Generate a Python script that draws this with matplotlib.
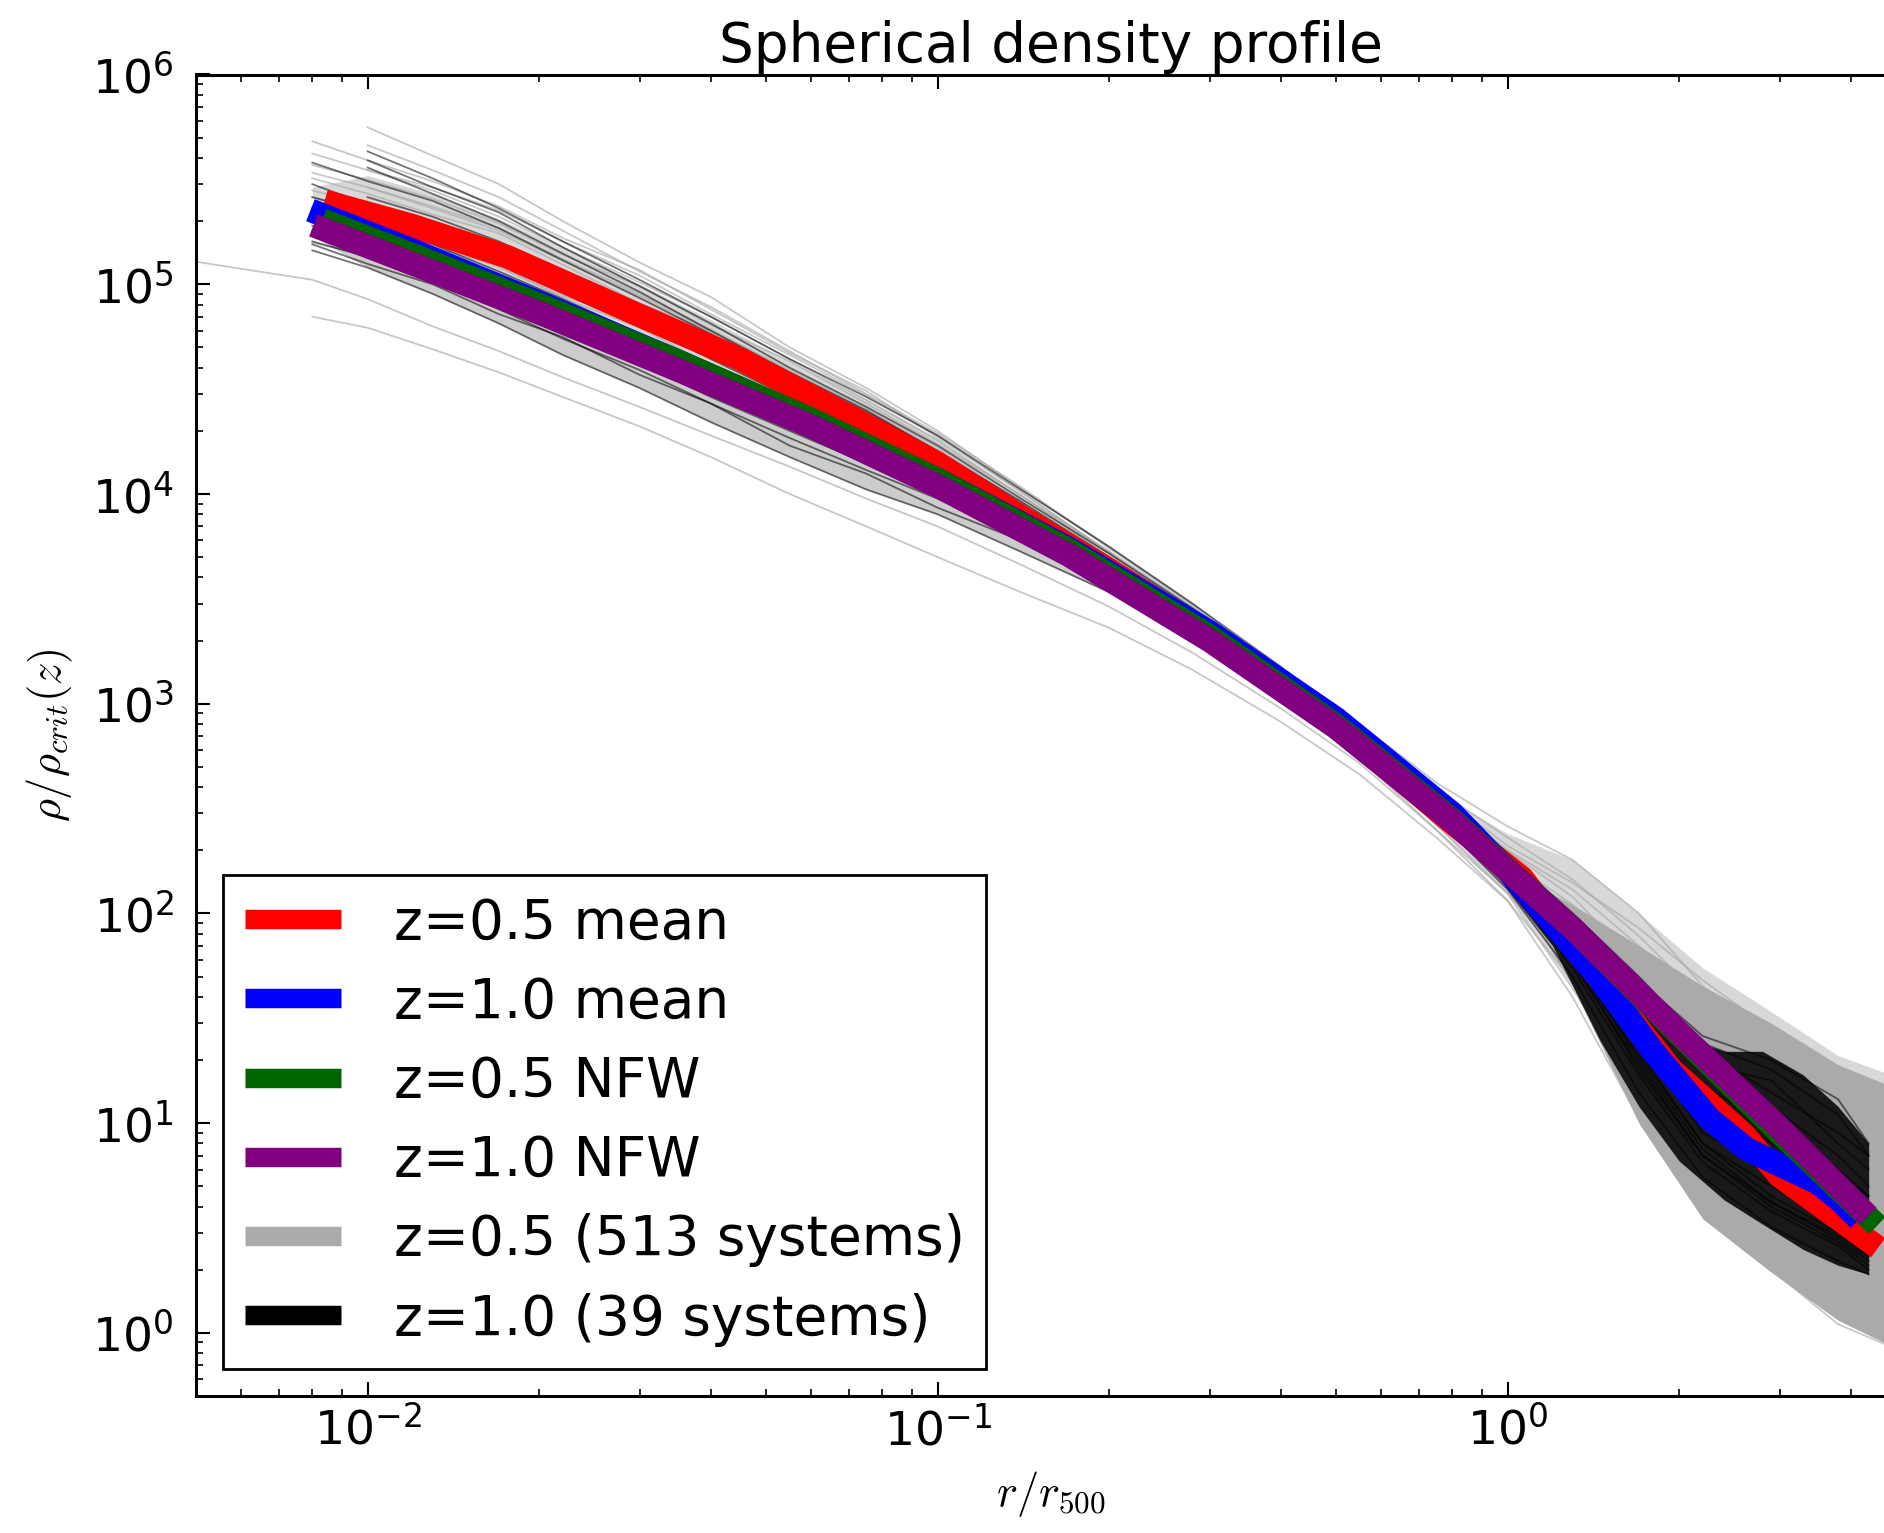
import numpy as np
import matplotlib
matplotlib.use('Agg')
import matplotlib.pyplot as plt
from matplotlib.lines import Line2D
from matplotlib.ticker import LogLocator, NullFormatter

nan = np.nan

# mean profiles and NFW fits
red_x = [0.0088, 0.012, 0.0176, 0.03, 0.045, 0.07, 0.1, 0.14, 0.2, 0.3, 0.5, 0.8, 1.06, 1.4, 1.94, 2.6, 3.0, 3.6, 4.3]
red_y = [2.4e5, 1.9e5, 1.35e5, 7.1e4, 4.4e4, 2.35e4, 1.4e4, 7.8e3, 4.35e3, 2.15e3, 790, 270, 148, 55, 18, 8.8, 5.6, 3.9, 2.75]

blue_x = [0.0083, 0.012, 0.02, 0.035, 0.06, 0.1, 0.17, 0.3, 0.5, 0.8, 1.0, 1.2, 1.44, 1.8, 2.26, 2.63, 3.05, 3.5, 3.82, 4.0]
blue_y = [2.15e5, 1.45e5, 8.2e4, 4.3e4, 2.25e4, 1.17e4, 5.5e3, 2.2e3, 850, 300, 160, 90, 50, 22, 10.5, 7.5, 6.2, 5.2, 4.3, 3.8]

green_x = [0.0087, 0.012, 0.02, 0.035, 0.06, 0.1, 0.17, 0.3, 0.5, 0.8, 1.3, 2.0, 3.0, 4.3]
green_y = [1.93e5, 1.38e5, 8.0e4, 4.3e4, 2.27e4, 1.17e4, 5.4e3, 2.1e3, 790, 280, 85, 26.5, 9.0, 3.55]

purple_x = [0.0084, 0.012, 0.02, 0.035, 0.06, 0.1, 0.17, 0.3, 0.5, 0.8, 1.3, 2.0, 3.0, 4.15]
purple_y = [1.82e5, 1.25e5, 7.3e4, 3.9e4, 2.1e4, 1.09e4, 5.1e3, 2.0e3, 770, 275, 85, 27, 9.5, 3.95]

# individual system profiles, sampled on a common radius grid
grid_x = [0.005, 0.008, 0.01, 0.013, 0.017, 0.022, 0.03, 0.04, 0.055, 0.075, 0.1, 0.14,
          0.2, 0.28, 0.4, 0.55, 0.75, 1.0, 1.3, 1.7, 2.2, 2.9, 3.8, 5.0]
black_grid_x = grid_x[:-1] + [4.3]

gray_lines = [
    [nan, nan, 5.6e5, 4.1e5, 3.0e5, 2.0e5, 1.27e5, 8.7e4, 5.0e4, 3.2e4, 2.0e4, 1.06e4, 5.6e3, 3.0e3, 1.44e3, 750, 390, 230, 145, 78, 39, 19, 13, 12],
    [nan, 4.8e5, 3.9e5, 3.1e5, 2.35e5, 1.66e5, 1.17e5, 7.6e4, 4.7e4, 3.1e4, 1.86e4, 1.03e4, 5.2e3, 2.76e3, 1.32e3, 715, 357, 198, 120, 57, 29, 15, 10, 7.7],
    [nan, 3.7e5, 3.15e5, 2.56e5, 1.95e5, 1.38e5, 9.8e4, 6.4e4, 4.3e4, 2.7e4, 1.73e4, 9.9e3, 5.0e3, 2.64e3, 1.38e3, 680, 340, 173, 96, 45, 21, 11, 7.2, 4.8],
    [nan, 3.2e5, 2.7e5, 2.15e5, 1.75e5, 1.24e5, 8.1e4, 6.0e4, 3.7e4, 2.4e4, 1.6e4, 8.7e3, 4.7e3, 2.5e3, 1.2e3, 690, 295, 170, 80, 36, 17, 8.4, 5.4, 3.5],
    [nan, 2.8e5, 2.4e5, 1.8e5, 1.5e5, 1.05e5, 7.5e4, 5.1e4, 3.25e4, 2.1e4, 1.46e4, 8.0e3, 4.3e3, 2.5e3, 1.14e3, 650, 325, 150, 68, 27, 11.7, 6.0, 3.6, 2.2],
    [nan, nan, 2.0e5, 1.5e5, 1.23e5, 8.6e4, 6.2e4, 4.1e4, 2.7e4, 1.9e4, 1.2e4, 7.2e3, 4.0e3, 2.3e3, 1.2e3, 620, 280, 140, 56, 18, 7.2, 3.3, 2.0, 1.3],
    [nan, 2.05e5, 1.64e5, 1.32e5, 9.8e4, 7.4e4, 5.2e4, 3.45e4, 2.35e4, 1.6e4, 1.13e4, 6.5e3, 3.9e3, 2.16e3, 1.08e3, 585, 265, 124, 44, 13.5, 5.2, 2.4, 1.45, 1.0],
    [nan, 1.58e5, 1.37e5, 1.07e5, 8.5e4, 6.2e4, 4.2e4, 3.0e4, 2.05e4, 1.4e4, 1.0e4, 6.1e3, 3.5e3, 2.05e3, 1.05e3, 550, 250, 115, 40, 10.5, 4.3, 2.0, 1.1, 0.8],
    [1.28e5, 1.05e5, 8.5e4, 6.3e4, 4.8e4, 3.6e4, 2.6e4, 1.9e4, 1.35e4, 9.5e3, 7.0e3, 4.6e3, 2.9e3, 1.75e3, 950, 520, 250, 125, 55, 19, 7.0, 3.0, 1.7, 1.1],
    [nan, 7.0e4, 6.2e4, 4.9e4, 3.8e4, 2.9e4, 2.1e4, 1.5e4, 1.0e4, 7.0e3, 5.0e3, 3.4e3, 2.3e3, 1.45e3, 820, 460, 230, 115, 48, 15, 5.0, 2.2, 1.2, 0.85],
    [nan, nan, 3.5e5, 2.8e5, 2.1e5, 1.5e5, 1.02e5, 7.0e4, 4.4e4, 2.8e4, 1.8e4, 9.8e3, 5.3e3, 2.9e3, 1.45e3, 800, 420, 260, 180, 100, 45, 22, 13, 9],
    [nan, 2.3e5, 1.95e5, 1.6e5, 1.2e5, 8.8e4, 6.8e4, 4.7e4, 3.0e4, 2.05e4, 1.35e4, 7.8e3, 4.4e3, 2.45e3, 1.25e3, 640, 300, 160, 90, 42, 20, 9.5, 5.5, 3.6],
    [nan, 4.2e5, 3.5e5, 2.9e5, 2.25e5, 1.6e5, 1.1e5, 7.2e4, 4.6e4, 2.95e4, 1.9e4, 1.02e4, 5.3e3, 2.85e3, 1.4e3, 730, 370, 200, 130, 70, 36, 20, 14, 11],
    [nan, nan, 4.6e5, 3.5e5, 2.6e5, 1.8e5, 1.15e5, 7.8e4, 4.8e4, 3.0e4, 1.95e4, 1.08e4, 5.5e3, 2.95e3, 1.42e3, 740, 380, 210, 140, 85, 48, 28, 18, 14],
    [nan, 3.4e5, 2.9e5, 2.35e5, 1.85e5, 1.32e5, 9.0e4, 6.1e4, 3.9e4, 2.55e4, 1.65e4, 9.2e3, 4.9e3, 2.7e3, 1.3e3, 700, 330, 175, 105, 52, 25, 13, 8.5, 6],
    [nan, 2.6e5, 2.25e5, 1.85e5, 1.45e5, 1.05e5, 7.2e4, 4.9e4, 3.2e4, 2.15e4, 1.4e4, 8.2e3, 4.5e3, 2.5e3, 1.25e3, 660, 310, 150, 62, 22, 8.5, 4.0, 2.4, 1.6],
    [nan, nan, 2.9e5, 2.3e5, 1.8e5, 1.3e5, 8.8e4, 6.0e4, 3.85e4, 2.5e4, 1.6e4, 9.0e3, 4.8e3, 2.6e3, 1.3e3, 670, 320, 180, 110, 60, 30, 17, 11, 8],
]

black_lines = [
    [nan, nan, 4.3e5, 3.2e5, 2.3e5, 1.6e5, 1.05e5, 7.0e4, 4.4e4, 2.9e4, 1.9e4, 1.05e4, 5.6e3, 3.0e3, 1.5e3, 780, 370, 180, 95, 45, 22, 14, 9, 7],
    [nan, 3.8e5, 3.1e5, 2.5e5, 1.85e5, 1.3e5, 8.6e4, 5.8e4, 3.7e4, 2.45e4, 1.6e4, 9.2e3, 5.0e3, 2.8e3, 1.4e3, 740, 350, 170, 85, 38, 19, 16, 8, 6],
    [nan, 2.3e5, 2.15e5, 1.9e5, 1.5e5, 1.1e5, 7.5e4, 5.2e4, 3.3e4, 2.2e4, 1.45e4, 8.5e3, 4.7e3, 2.65e3, 1.35e3, 710, 340, 165, 78, 31, 13, 8, 5.5, 4.5],
    [nan, 2.6e5, 2.2e5, 1.7e5, 1.3e5, 9.5e4, 6.5e4, 4.4e4, 2.9e4, 1.95e4, 1.3e4, 7.8e3, 4.4e3, 2.5e3, 1.3e3, 690, 330, 160, 72, 26, 10, 5.5, 3.6, 2.8],
    [nan, 2.0e5, 1.75e5, 1.35e5, 1.0e5, 7.4e4, 5.0e4, 3.5e4, 2.35e4, 1.6e4, 1.15e4, 7.0e3, 4.1e3, 2.35e3, 1.22e3, 650, 315, 150, 65, 22, 8, 4.5, 3.0, 2.3],
    [nan, 1.7e5, 1.45e5, 1.1e5, 8.2e4, 6.0e4, 4.2e4, 2.9e4, 2.0e4, 1.4e4, 1.02e4, 6.5e3, 3.9e3, 2.25e3, 1.2e3, 640, 300, 140, 55, 17, 6.5, 3.8, 2.6, 2.0],
    [nan, 1.45e5, 1.2e5, 9.0e4, 6.5e4, 4.6e4, 3.2e4, 2.2e4, 1.5e4, 1.05e4, 8.0e3, 5.3e3, 3.4e3, 2.0e3, 1.1e3, 600, 285, 130, 50, 14, 5.5, 3.2, 2.2, 1.9],
    [nan, nan, 3.6e5, 2.7e5, 2.0e5, 1.4e5, 9.2e4, 6.0e4, 3.8e4, 2.5e4, 1.6e4, 8.8e3, 4.9e3, 2.7e3, 1.4e3, 730, 360, 185, 100, 50, 24, 18, 11, 7],
    [nan, 2.3e5, 1.95e5, 1.55e5, 1.15e5, 8.5e4, 5.8e4, 4.0e4, 2.6e4, 1.75e4, 1.2e4, 7.3e3, 4.2e3, 2.4e3, 1.25e3, 670, 325, 155, 70, 27, 11, 7, 4.5, 3.4],
    [nan, 1.9e5, 1.6e5, 1.25e5, 9.3e4, 6.8e4, 4.6e4, 3.2e4, 2.15e4, 1.5e4, 1.08e4, 6.8e3, 4.0e3, 2.3e3, 1.2e3, 660, 320, 150, 62, 20, 7.5, 4.2, 2.8, 2.2],
    [nan, nan, 2.6e5, 2.1e5, 1.6e5, 1.15e5, 7.8e4, 5.3e4, 3.4e4, 2.25e4, 1.5e4, 8.6e3, 4.8e3, 2.6e3, 1.32e3, 700, 335, 160, 76, 32, 15, 10, 6, 4.5],
    [nan, 1.6e5, 1.35e5, 1.05e5, 7.6e4, 5.5e4, 3.9e4, 2.7e4, 1.85e4, 1.3e4, 9.5e3, 6.2e3, 3.7e3, 2.15e3, 1.15e3, 620, 300, 142, 58, 19, 7, 4.0, 2.7, 2.1],
    [nan, 1.55e5, 1.25e5, 1.0e5, 7.2e4, 5.6e4, 3.7e4, 2.7e4, 1.7e4, 1.25e4, 8.6e3, 6.0e3, 3.5e3, 2.1e3, 1.12e3, 610, 290, 138, 60, 18, 7, 4.2, 2.9, 2.3],
    [nan, 2.1e5, 1.7e5, 1.4e5, 9.8e4, 7.6e4, 5.1e4, 3.3e4, 2.4e4, 1.55e4, 1.12e4, 6.6e3, 4.0e3, 2.3e3, 1.2e3, 650, 310, 155, 66, 24, 9, 6, 4.0, 3.0],
    [nan, 3.0e5, 2.4e5, 1.95e5, 1.4e5, 1.05e5, 6.6e4, 4.8e4, 3.0e4, 2.1e4, 1.35e4, 7.9e3, 4.5e3, 2.55e3, 1.3e3, 690, 340, 170, 88, 40, 20, 12, 7, 5],
    [nan, 1.8e5, 1.5e5, 1.2e5, 8.5e4, 6.4e4, 4.3e4, 3.0e4, 2.05e4, 1.4e4, 9.8e3, 6.3e3, 3.8e3, 2.2e3, 1.18e3, 630, 305, 145, 60, 21, 8, 5, 3.4, 2.6],
    [nan, nan, 3.9e5, 2.9e5, 2.2e5, 1.5e5, 9.8e4, 6.5e4, 4.0e4, 2.6e4, 1.7e4, 9.5e3, 5.2e3, 2.85e3, 1.45e3, 760, 365, 178, 92, 48, 26, 20, 13, 8],
]

# spread of the z=0.5 cloud (light part) and its solid core at large radii
gray_lo = [nan, 2.6e5, 1.9e5, 1.4e5, 1.1e5, 8.0e4, 5.5e4, 3.9e4, 2.5e4, 1.7e4, 1.15e4, 6.6e3, 3.8e3, 2.15e3, 1.08e3, 570, 260, 125, 45, 10, 3.5, 1.95, 1.15, 0.8]
gray_hi = [nan, 2.9e5, 3.3e5, 2.7e5, 2.05e5, 1.5e5, 1.0e5, 6.8e4, 4.3e4, 2.85e4, 1.85e4, 1.0e4, 5.4e3, 2.9e3, 1.42e3, 760, 380, 240, 180, 100, 55, 34, 21, 16]
solid_x = [1.0, 1.3, 1.7, 2.2, 2.9, 3.8, 5.0]
solid_lo = [150, 45, 10, 3.5, 1.95, 1.15, 0.8]
solid_hi = [160, 110, 70, 45, 30, 19, 14]

# band of the z=1.0 cloud below the NFW curves
black_band_lo = [nan, 1.7e5, 1.2e5, 9.0e4, 6.5e4, 4.6e4, 3.2e4, 2.2e4, 1.5e4, 1.05e4, 8.0e3, 5.3e3, 3.4e3, 2.0e3, 1.1e3, 600, 285, 130]
black_band_hi = [nan, 1.75e5, 1.55e5, 1.2e5, 9.0e4, 6.6e4, 4.6e4, 3.2e4, 2.1e4, 1.45e4, 1.0e4, 6.5e3, 3.8e3, 2.2e3, 1.15e3, 630, 305, 150]

# dense z=1.0 cloud at large radii
black_fill_x = [0.9, 1.0, 1.2, 1.45, 1.7, 2.0, 2.4, 2.8, 3.3, 3.8, 4.3]
black_lo = [195, 130, 70, 25, 12, 6.6, 4.3, 3.3, 2.5, 2.1, 1.9]
black_hi = [250, 190, 110, 60, 35, 26, 22, 22, 17, 12, 8]

gray_c = '#aaaaaa'
lw_mean = 17

fig = plt.figure(figsize=(18.84, 15.33), dpi=100)
ax = fig.add_axes([196 / 1884, 137 / 1533, 1710 / 1884, 1321.5 / 1533])
ax.set_xscale('log')
ax.set_yscale('log')

gx = np.array(grid_x)
ax.fill_between(gx, gray_lo, gray_hi, color=gray_c, alpha=0.45, lw=0, zorder=1)
ax.fill_between(solid_x, solid_lo, solid_hi, color=gray_c, alpha=1.0, lw=0, zorder=1)
for ys in gray_lines:
    ax.plot(grid_x, ys, color=gray_c, lw=1.3, alpha=0.65, zorder=2)

ax.fill_between(gx[:18], black_band_lo, black_band_hi, color='k', alpha=0.2, lw=0, zorder=3)
ax.fill_between(black_fill_x, black_lo, black_hi, color='k', alpha=0.85, lw=0, zorder=3)
for ys in black_lines:
    ax.plot(black_grid_x, ys, color='k', lw=1.3, alpha=0.55, zorder=4)

l1, = ax.plot(red_x, red_y, color='red', lw=lw_mean, zorder=5)
l2, = ax.plot(blue_x, blue_y, color='blue', lw=lw_mean, zorder=6)
l3, = ax.plot(green_x, green_y, color='darkgreen', lw=lw_mean, zorder=7)
l4, = ax.plot(purple_x, purple_y, color='purple', lw=lw_mean, zorder=8)
p5 = Line2D([], [], color=gray_c, lw=lw_mean)
p6 = Line2D([], [], color='k', lw=lw_mean)

ax.set_xlim(0.005, 5)
ax.set_ylim(0.5, 1e6)

ax.xaxis.set_minor_locator(LogLocator(base=10, subs=np.arange(2, 10), numticks=100))
ax.yaxis.set_minor_locator(LogLocator(base=10, subs=np.arange(2, 10), numticks=100))
ax.xaxis.set_minor_formatter(NullFormatter())
ax.yaxis.set_minor_formatter(NullFormatter())
ax.tick_params(which='both', direction='in', top=True, right=True, labelsize=34)
ax.tick_params(which='major', length=10, width=1.5)
ax.tick_params(which='minor', length=5, width=1.2)
ax.tick_params(axis='x', pad=8)
ax.tick_params(axis='y', pad=16)
for s in ax.spines.values():
    s.set_linewidth(2.2)

ax.set_title('Spherical density profile', fontsize=39.5, pad=9)
ax.set_xlabel(r'$r/r_{500}$', fontsize=32, math_fontfamily='cm', labelpad=10)
ax.set_ylabel(r'$\rho/\rho_{crit}(z)$', fontsize=32, math_fontfamily='cm', labelpad=12)

leg = ax.legend([l1, l2, l3, l4, p5, p6],
                ['z=0.5 mean', 'z=1.0 mean', 'z=0.5 NFW', 'z=1.0 NFW',
                 'z=0.5 (513 systems)', 'z=1.0 (39 systems)'],
                loc='lower left', fontsize=39.5, fancybox=False, framealpha=1,
                borderpad=0.4, labelspacing=0.46, handlelength=1.75,
                handletextpad=0.95, borderaxespad=0.5)
leg.get_frame().set_edgecolor('black')
leg.get_frame().set_linewidth(2)
for h in leg.get_lines():
    h.set_linewidth(14)
    h.set_solid_capstyle('butt')

fig.savefig('out.png', dpi=100)
